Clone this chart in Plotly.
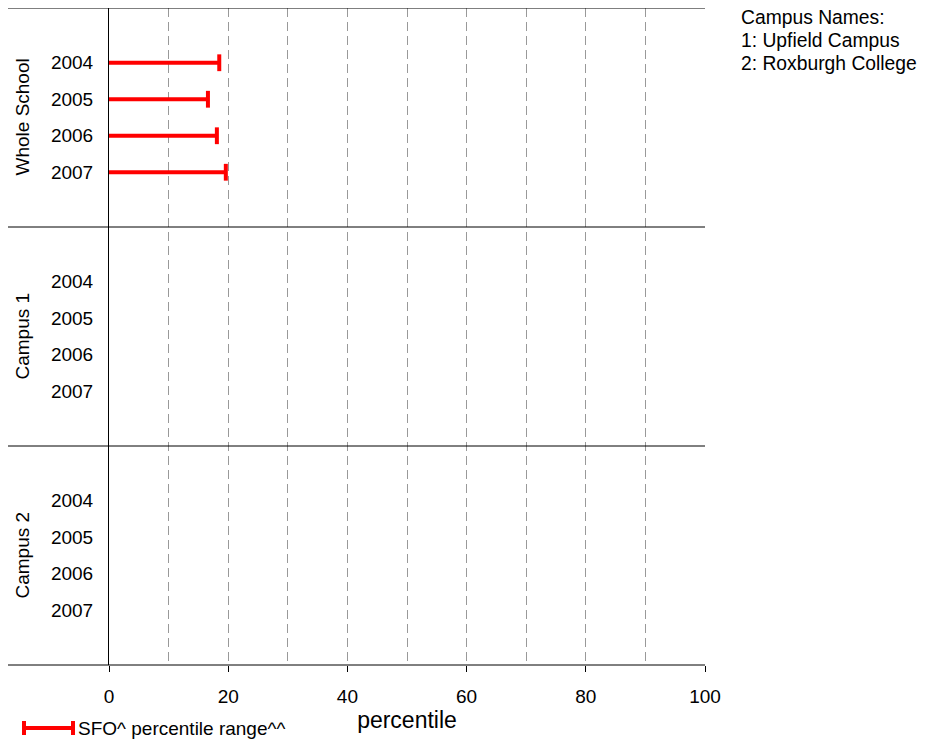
import plotly.graph_objects as go

years = ["2004", "2005", "2006", "2007"]
groups = ["Whole School", "Campus 1", "Campus 2"]
whole_school = [18.5, 16.6, 18.1, 19.6]
campus_1 = [None, None, None, None]
campus_2 = [None, None, None, None]
series = [whole_school, campus_1, campus_2]
x_ticks = [0, 20, 40, 60, 80, 100]
campus_names = ["Campus Names:", "1: Upfield Campus", "2: Roxburgh College"]

RED = "#FF0000"
FONT = "Liberation Sans, Arial, sans-serif"
OFF = 8  # page body margin

fig = go.Figure()

tickvals, ticktext = [], []
for g, vals in enumerate(series):
    for i, v in enumerate(vals):
        yv = g * 6 + 1.5 + i
        tickvals.append(yv)
        ticktext.append(years[i])
        if v is None:
            continue
        fig.add_trace(go.Scatter(x=[0, v], y=[yv, yv], mode="lines",
                                 line=dict(color=RED, width=4),
                                 showlegend=False, hoverinfo="skip"))
        fig.add_trace(go.Scatter(x=[v], y=[yv], mode="markers",
                                 marker=dict(symbol="line-ns", size=12,
                                             line=dict(color=RED, width=4)),
                                 showlegend=False, hoverinfo="skip"))

W, H = 925, 740
L, T = 109 - OFF, 8 - OFF
R = W - (705 - OFF)
B = H - (665 - OFF)
pw = W - L - R
ph = H - T - B

def sx(px):  # screen px -> paper x
    return (px - OFF - L) / pw

def sy(py):  # screen px -> paper y
    return (H - B - (py - OFF)) / ph

shapes = []
for k in range(4):
    shapes.append(dict(type="line", xref="paper", yref="paper",
                       x0=sx(8), x1=1, y0=k / 3, y1=k / 3,
                       line=dict(color="black", width=1)))

# legend symbol
LEG_Y = 728
shapes.append(dict(type="line", xref="paper", yref="paper",
                   x0=sx(23), x1=sx(73), y0=sy(LEG_Y), y1=sy(LEG_Y),
                   line=dict(color=RED, width=4)))
for xx in (24, 73):
    shapes.append(dict(type="line", xref="paper", yref="paper",
                       x0=sx(xx), x1=sx(xx), y0=sy(LEG_Y - 7), y1=sy(LEG_Y + 7),
                       line=dict(color=RED, width=4)))

annotations = []
for g, name in enumerate(groups):
    annotations.append(dict(text=name, xref="paper", yref="paper",
                            x=sx(22), y=1 - (g + 0.5) / 3, xanchor="center",
                            yanchor="middle", textangle=-90, showarrow=False,
                            font=dict(size=19, color="black", family=FONT)))
for j, line in enumerate(campus_names):
    annotations.append(dict(text=line, xref="paper", yref="paper",
                            x=sx(739), y=sy(17 + 23 * j), xanchor="left",
                            yanchor="middle", align="left", showarrow=False,
                            font=dict(size=19.3, color="black", family=FONT)))
annotations.append(dict(text="SFO^ percentile range^^", xref="paper", yref="paper",
                        x=sx(76), y=sy(LEG_Y), xanchor="left",
                        yanchor="middle", showarrow=False,
                        font=dict(size=19, color="black", family=FONT)))

GRID = "#999999"
fig.update_layout(
    width=W, height=H,
    margin=dict(l=L, r=R, t=T, b=B, autoexpand=False),
    plot_bgcolor="white", paper_bgcolor="white",
    font=dict(family=FONT, size=19, color="black"),
    shapes=shapes, annotations=annotations,
    xaxis=dict(range=[0, 100], tickvals=x_ticks, ticks="outside", ticklen=6,
               tickcolor="black", showgrid=True, gridcolor=GRID,
               griddash="9px,5px", gridwidth=1, zeroline=False, showline=False,
               minor=dict(dtick=10, showgrid=True, gridcolor=GRID,
                          griddash="9px,5px", ticks=""),
               ticklabelstandoff=8,
               title=dict(text="percentile", font=dict(size=23), standoff=5),
               tickfont=dict(size=19)),
    yaxis=dict(range=[18, 0], tickvals=tickvals, ticktext=ticktext,
               ticks="", showgrid=False, zeroline=False, showline=True,
               linecolor="black", linewidth=1, ticklabelstandoff=11,
               tickfont=dict(size=19)),
)

fig.write_html("out.html")
